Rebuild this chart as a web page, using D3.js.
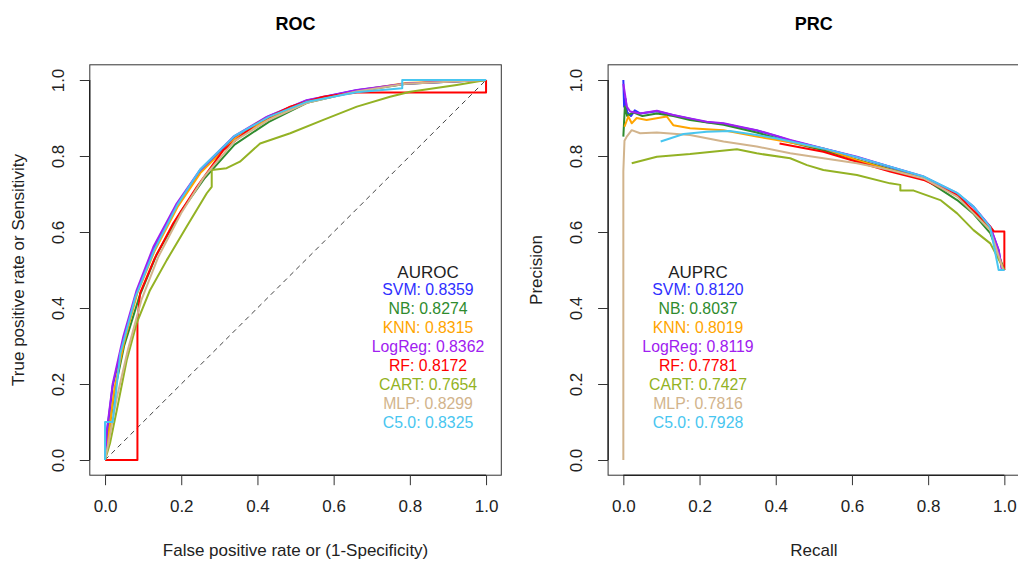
<!DOCTYPE html>
<html>
<head>
<meta charset="utf-8">
<script src="https://cdn.jsdelivr.net/npm/d3@7"></script>
<style>
  body { margin: 0; background: #fff; }
  text { font-family: "Liberation Sans", Arial, sans-serif; }
</style>
</head>
<body>
<script>
// Model names, colours and scores
var models = ["SVM", "NB", "KNN", "LogReg", "RF", "CART", "MLP", "C5.0"];
var colors = ["#2f2fff", "#2e8b2e", "#ffa500", "#a020f0", "#ff0000", "#93b224", "#d2b48c", "#48c6f0"];
var auroc = ["0.8359", "0.8274", "0.8315", "0.8362", "0.8172", "0.7654", "0.8299", "0.8325"];
var auprc = ["0.8120", "0.8037", "0.8019", "0.8119", "0.7781", "0.7427", "0.7816", "0.7928"];
var ticks = [0, 0.2, 0.4, 0.6, 0.8, 1.0];

// ROC curves, [fpr, tpr]
var rocSVM = [[0,0],[0.006,0.08],[0.02,0.195],[0.05,0.32],[0.085,0.445],[0.13,0.56],[0.19,0.672],[0.25,0.762],[0.34,0.85],[0.43,0.905],[0.53,0.946],[0.66,0.973],[0.79,0.99],[1,1]];
var rocNB = [[0,0],[0.008,0.06],[0.025,0.18],[0.05,0.3],[0.09,0.43],[0.135,0.54],[0.2,0.655],[0.26,0.74],[0.34,0.83],[0.43,0.89],[0.53,0.94],[0.66,0.97],[0.79,0.99],[1,1]];
var rocKNN = [[0,0],[0.01,0.07],[0.025,0.19],[0.05,0.31],[0.085,0.44],[0.13,0.55],[0.19,0.665],[0.25,0.755],[0.34,0.845],[0.43,0.9],[0.53,0.943],[0.66,0.972],[0.79,0.992],[1,1]];
var rocLogReg = [[0,0],[0.005,0.08],[0.02,0.2],[0.048,0.325],[0.083,0.447],[0.127,0.561],[0.188,0.675],[0.249,0.763],[0.337,0.851],[0.424,0.903],[0.529,0.947],[0.661,0.974],[0.792,0.991],[1,1]];
var rocRF = [[0,0],[0.085,0],[0.085,0.368],[0.092,0.439],[0.13,0.53],[0.179,0.623],[0.241,0.719],[0.311,0.816],[0.398,0.886],[0.486,0.93],[0.573,0.956],[0.661,0.967],[1,0.967],[1,1]];
var rocCART = [[0,0],[0.013,0.044],[0.031,0.132],[0.057,0.263],[0.083,0.36],[0.118,0.447],[0.162,0.526],[0.214,0.614],[0.267,0.702],[0.28,0.719],[0.28,0.763],[0.319,0.768],[0.354,0.785],[0.407,0.833],[0.486,0.86],[0.573,0.895],[0.661,0.93],[0.748,0.956],[0.801,0.969],[0.923,0.987],[1,1]];
var rocMLP = [[0,0],[0.01,0.05],[0.03,0.16],[0.06,0.29],[0.095,0.42],[0.14,0.535],[0.2,0.65],[0.26,0.745],[0.34,0.84],[0.43,0.895],[0.53,0.94],[0.66,0.97],[0.79,0.99],[1,1]];
var rocC50 = [[0,0],[0,0.1],[0.02,0.1],[0.04,0.28],[0.08,0.43],[0.13,0.555],[0.19,0.672],[0.25,0.765],[0.34,0.853],[0.43,0.903],[0.53,0.943],[0.66,0.968],[0.78,0.978],[0.78,1],[1,1]];

// PR curves, [recall, precision]
var prcSVM = [[0,1.0],[0.002,0.93],[0.006,0.95],[0.01,0.915],[0.02,0.905],[0.03,0.92],[0.044,0.912],[0.088,0.918],[0.131,0.907],[0.175,0.898],[0.219,0.889],[0.263,0.885],[0.306,0.876],[0.35,0.867],[0.403,0.852],[0.438,0.841],[0.525,0.819],[0.613,0.797],[0.7,0.771],[0.788,0.745],[0.876,0.701],[0.919,0.666],[0.963,0.613],[0.985,0.552],[0.994,0.5],[1,0.5]];
var prcNB = [[0,0.851],[0.004,0.93],[0.01,0.905],[0.026,0.915],[0.05,0.905],[0.088,0.912],[0.131,0.905],[0.175,0.895],[0.263,0.882],[0.35,0.862],[0.438,0.836],[0.525,0.815],[0.613,0.79],[0.7,0.765],[0.788,0.741],[0.876,0.684],[0.919,0.648],[0.963,0.597],[1,0.5]];
var prcKNN = [[0.003,0.877],[0.013,0.904],[0.022,0.886],[0.035,0.9],[0.061,0.895],[0.114,0.904],[0.131,0.881],[0.175,0.873],[0.263,0.868],[0.35,0.851],[0.403,0.842],[0.525,0.82],[0.613,0.789],[0.7,0.763],[0.788,0.741],[0.876,0.697],[0.963,0.61],[0.997,0.5]];
var prcLogReg = [[0,0.99],[0.004,0.965],[0.009,0.93],[0.018,0.917],[0.044,0.912],[0.088,0.919],[0.131,0.908],[0.175,0.899],[0.219,0.89],[0.263,0.886],[0.306,0.877],[0.35,0.868],[0.403,0.853],[0.438,0.842],[0.525,0.82],[0.613,0.798],[0.7,0.772],[0.788,0.746],[0.876,0.702],[0.919,0.667],[0.963,0.614],[0.985,0.553],[0.994,0.5]];
var prcRF = [[0.41,0.833],[0.525,0.811],[0.613,0.785],[0.7,0.759],[0.788,0.737],[0.876,0.697],[0.963,0.614],[0.973,0.601],[1,0.601],[1,0.5]];
var prcCART = [[0.022,0.781],[0.088,0.798],[0.175,0.805],[0.298,0.818],[0.35,0.807],[0.438,0.794],[0.482,0.776],[0.525,0.763],[0.613,0.75],[0.7,0.728],[0.727,0.724],[0.727,0.709],[0.762,0.709],[0.832,0.684],[0.876,0.649],[0.919,0.605],[0.963,0.57],[1,0.5]];
var prcMLP = [[0,0],[0,0.76],[0.003,0.84],[0.009,0.851],[0.022,0.868],[0.044,0.86],[0.088,0.862],[0.175,0.855],[0.263,0.838],[0.35,0.825],[0.438,0.807],[0.525,0.794],[0.613,0.781],[0.7,0.763],[0.788,0.741],[0.876,0.693],[0.963,0.605],[0.997,0.5]];
var prcC50 = [[0.098,0.838],[0.158,0.858],[0.219,0.864],[0.28,0.866],[0.35,0.855],[0.403,0.846],[0.525,0.82],[0.613,0.797],[0.7,0.772],[0.788,0.746],[0.876,0.703],[0.919,0.667],[0.963,0.612],[0.985,0.5],[1,0.5]];

var rocCurves = [rocSVM, rocNB, rocKNN, rocLogReg, rocRF, rocCART, rocMLP, rocC50];
var prcCurves = [prcSVM, prcNB, prcKNN, prcLogReg, prcRF, prcCART, prcMLP, prcC50];

var svg = d3.select("body").append("svg")
    .attr("width", 1018)
    .attr("height", 561);

var fmt = d3.format(".1f");

function panel(opts) {
    var x = d3.scaleLinear().domain([-0.04, 1.04]).range([opts.left, opts.left + 411.5]);
    var y = d3.scaleLinear().domain([-0.04, 1.04]).range([475.2, 64.8]);
    var g = svg.append("g");

    var line = d3.line()
        .x(function (d) { return x(d[0]); })
        .y(function (d) { return y(d[1]); });

    if (opts.diagonal) {
        g.append("path")
            .attr("d", line([[0, 0], [1, 1]]))
            .attr("fill", "none")
            .attr("stroke", "#444")
            .attr("stroke-width", 1)
            .attr("stroke-dasharray", "5,4");
    }

    g.selectAll(".curve")
        .data(opts.curves)
        .enter()
        .append("path")
        .attr("class", "curve")
        .attr("d", line)
        .attr("fill", "none")
        .attr("stroke", function (d, i) { return colors[i]; })
        .attr("stroke-width", 2)
        .attr("stroke-linejoin", "round");

    // box
    g.append("rect")
        .attr("x", x(-0.04)).attr("y", y(1.04))
        .attr("width", x(1.04) - x(-0.04)).attr("height", y(-0.04) - y(1.04))
        .attr("fill", "none").attr("stroke", "#333").attr("stroke-width", 1);

    var xAxis = g.append("g")
        .attr("transform", "translate(0," + y(-0.04) + ")")
        .call(d3.axisBottom(x).tickValues(ticks).tickFormat(fmt).tickSize(10).tickPadding(15));
    var yAxis = g.append("g")
        .attr("transform", "translate(" + x(-0.04) + ",0)")
        .call(d3.axisLeft(y).tickValues(ticks).tickFormat(fmt).tickSize(10));
    [xAxis, yAxis].forEach(function (a) {
        a.select(".domain").attr("d", a === xAxis
            ? "M" + x(0) + ",0H" + x(1)
            : "M0," + y(0) + "V" + y(1));
        a.selectAll("line").attr("stroke", "#333");
        a.selectAll("text").attr("font-size", 17).attr("fill", "#222")
            .style("font-family", "'Liberation Sans', Arial, sans-serif");
    });
    yAxis.selectAll(".tick text")
        .attr("x", null).attr("dy", null)
        .attr("text-anchor", "middle")
        .attr("transform", "translate(-26,0) rotate(-90)");

    // titles
    var cx = (x(-0.04) + x(1.04)) / 2;
    g.append("text").attr("x", cx).attr("y", 30)
        .attr("text-anchor", "middle").attr("font-size", 18).attr("font-weight", "bold")
        .text(opts.title);
    g.append("text").attr("x", cx).attr("y", 556)
        .attr("text-anchor", "middle").attr("font-size", 17).attr("fill", "#222")
        .text(opts.xlab);
    g.append("text")
        .attr("transform", "translate(" + (x(-0.04) - 66) + "," + y(0.5) + ") rotate(-90)")
        .attr("text-anchor", "middle").attr("font-size", 17).attr("fill", "#222")
        .text(opts.ylab);

    // score legend
    g.append("text").attr("x", opts.legX).attr("y", 278)
        .attr("text-anchor", "middle").attr("font-size", 17).attr("fill", "#222")
        .text(opts.legTitle);
    g.selectAll(".leg")
        .data(models)
        .enter()
        .append("text")
        .attr("class", "leg")
        .attr("x", opts.legX)
        .attr("y", function (d, i) { return 295 + i * 19; })
        .attr("text-anchor", "middle")
        .attr("font-size", 15.8)
        .attr("fill", function (d, i) { return colors[i]; })
        .text(function (d, i) { return d + ": " + opts.scores[i]; });
}

panel({ left: 89.8, curves: rocCurves, diagonal: true, title: "ROC",
        xlab: "False positive rate or (1-Specificity)", ylab: "True positive rate or Sensitivity",
        legTitle: "AUROC", scores: auroc, legX: 428 });
panel({ left: 608.1, curves: prcCurves, diagonal: false, title: "PRC",
        xlab: "Recall", ylab: "Precision",
        legTitle: "AUPRC", scores: auprc, legX: 698 });
</script>
</body>
</html>
